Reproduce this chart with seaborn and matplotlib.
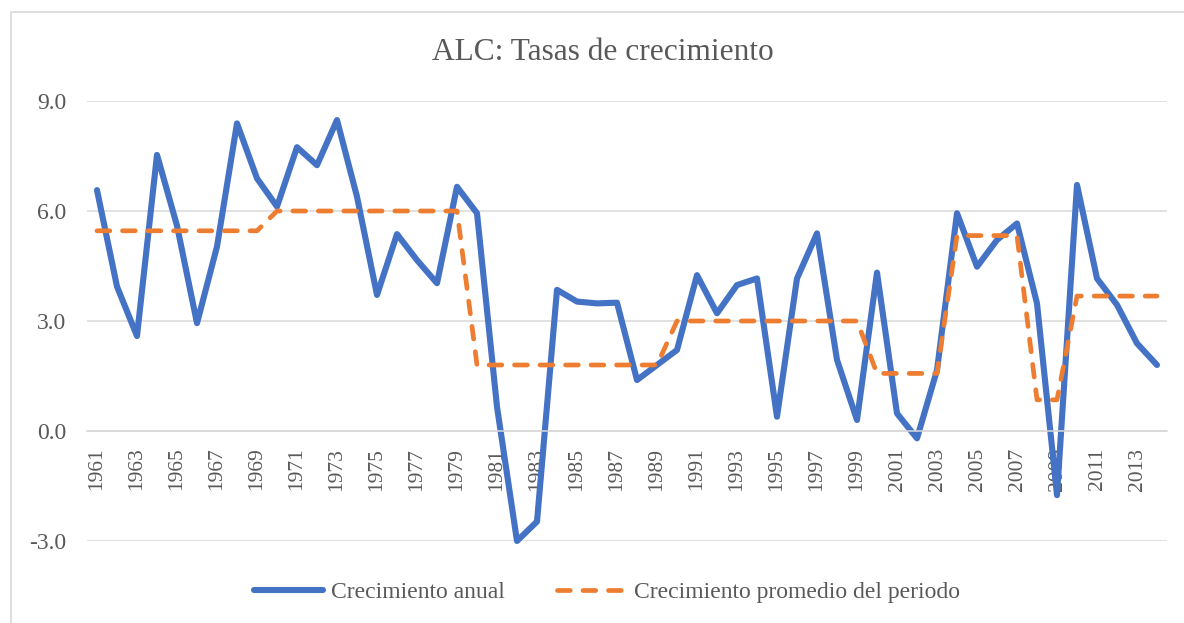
import matplotlib
matplotlib.use('Agg')
import matplotlib.pyplot as plt
from matplotlib.patches import Rectangle
import seaborn as sns
import pandas as pd

# Data
years = list(range(1961, 2015))
crecimiento_anual = [6.57, 3.94, 2.59, 7.53, 5.6, 2.94, 5.03, 8.39, 6.89, 6.12,
                     7.74, 7.25, 8.48, 6.39, 3.71, 5.37, 4.66, 4.03, 6.66, 5.94,
                     0.66, -3.0, -2.47, 3.85, 3.53, 3.48, 3.50, 1.39, 1.80, 2.21,
                     4.25, 3.21, 3.98, 4.16, 0.39, 4.16, 5.39, 1.94, 0.30, 4.32,
                     0.48, -0.20, 1.66, 5.94, 4.48, 5.21, 5.66, 3.48, -1.75, 6.71,
                     4.16, 3.44, 2.39, 1.80]
promedio_periodo = [5.46] * 9 + [6.0] * 10 + [1.80] * 10 + [3.0] * 10 + \
                   [1.57] * 4 + [5.33] * 4 + [0.85] * 2 + [3.68] * 5

df = pd.DataFrame({'year': years, 'anual': crecimiento_anual, 'promedio': promedio_periodo})

sns.set_style('white')
plt.rcParams['font.family'] = ['Liberation Serif', 'DejaVu Serif']
txt_color = '#595959'
grid_color = '#d9d9d9'

fig = plt.figure(figsize=(11.84, 6.23), dpi=100)
ax = fig.add_axes([87 / 1184, 1 - 541 / 623, (1167 - 87) / 1184, (541 - 101) / 623])

sns.lineplot(data=df, x='year', y='anual', ax=ax, color='#4472C4', linewidth=4.4,
             label='Crecimiento anual', clip_on=False,
             solid_joinstyle='round', solid_capstyle='round')
sns.lineplot(data=df, x='year', y='promedio', ax=ax, color='#ED7D31', linewidth=3.4,
             linestyle=(0, (2.7, 2.7)), dash_capstyle='round', dash_joinstyle='round',
             label='Crecimiento promedio del periodo', clip_on=False)

# axis line (and tick labels) at y = 0, like the spreadsheet chart
for side in ['top', 'right', 'left']:
    ax.spines[side].set_visible(False)
ax.spines['bottom'].set_position(('data', 0))
ax.spines['bottom'].set_color(grid_color)
ax.spines['bottom'].set_linewidth(1.1)

ax.set_xlim(1960.5, 2014.5)
ax.set_ylim(-3, 9)
ax.set_yticks([-3, 0, 3, 6, 9])
ax.set_yticklabels(['-3.0', '0.0', '3.0', '6.0', '9.0'])
ax.set_xticks(years[::2])
ax.set_xticklabels([str(y) for y in years[::2]])
ax.tick_params(axis='x', length=0, pad=12, labelsize=15.5, labelcolor=txt_color, labelrotation=90)
ax.tick_params(axis='y', length=0, pad=15, labelsize=17, labelcolor=txt_color)
ax.grid(axis='y', color=grid_color, linewidth=1.1)
ax.set_axisbelow(True)
ax.set_xlabel('')
ax.set_ylabel('')

fig.text(603 / 1184, 1 - 52 / 623, 'ALC: Tasas de crecimiento', ha='center', va='center',
         fontsize=22.6, color=txt_color)

ax.legend(loc='center', bbox_to_anchor=(607 / 1184, 1 - 592 / 623),
          bbox_transform=fig.transFigure, ncol=2, frameon=False, fontsize=17,
          handlelength=2.9, handletextpad=0.35, columnspacing=2.2, labelcolor=txt_color)

# chart border like the spreadsheet frame
fig.patches.append(Rectangle((11 / 1184, -0.1), 2, 1 - 12 / 623 + 0.1, transform=fig.transFigure,
                             fill=False, edgecolor=grid_color, linewidth=1.2))

fig.savefig('out.png', dpi=100)
